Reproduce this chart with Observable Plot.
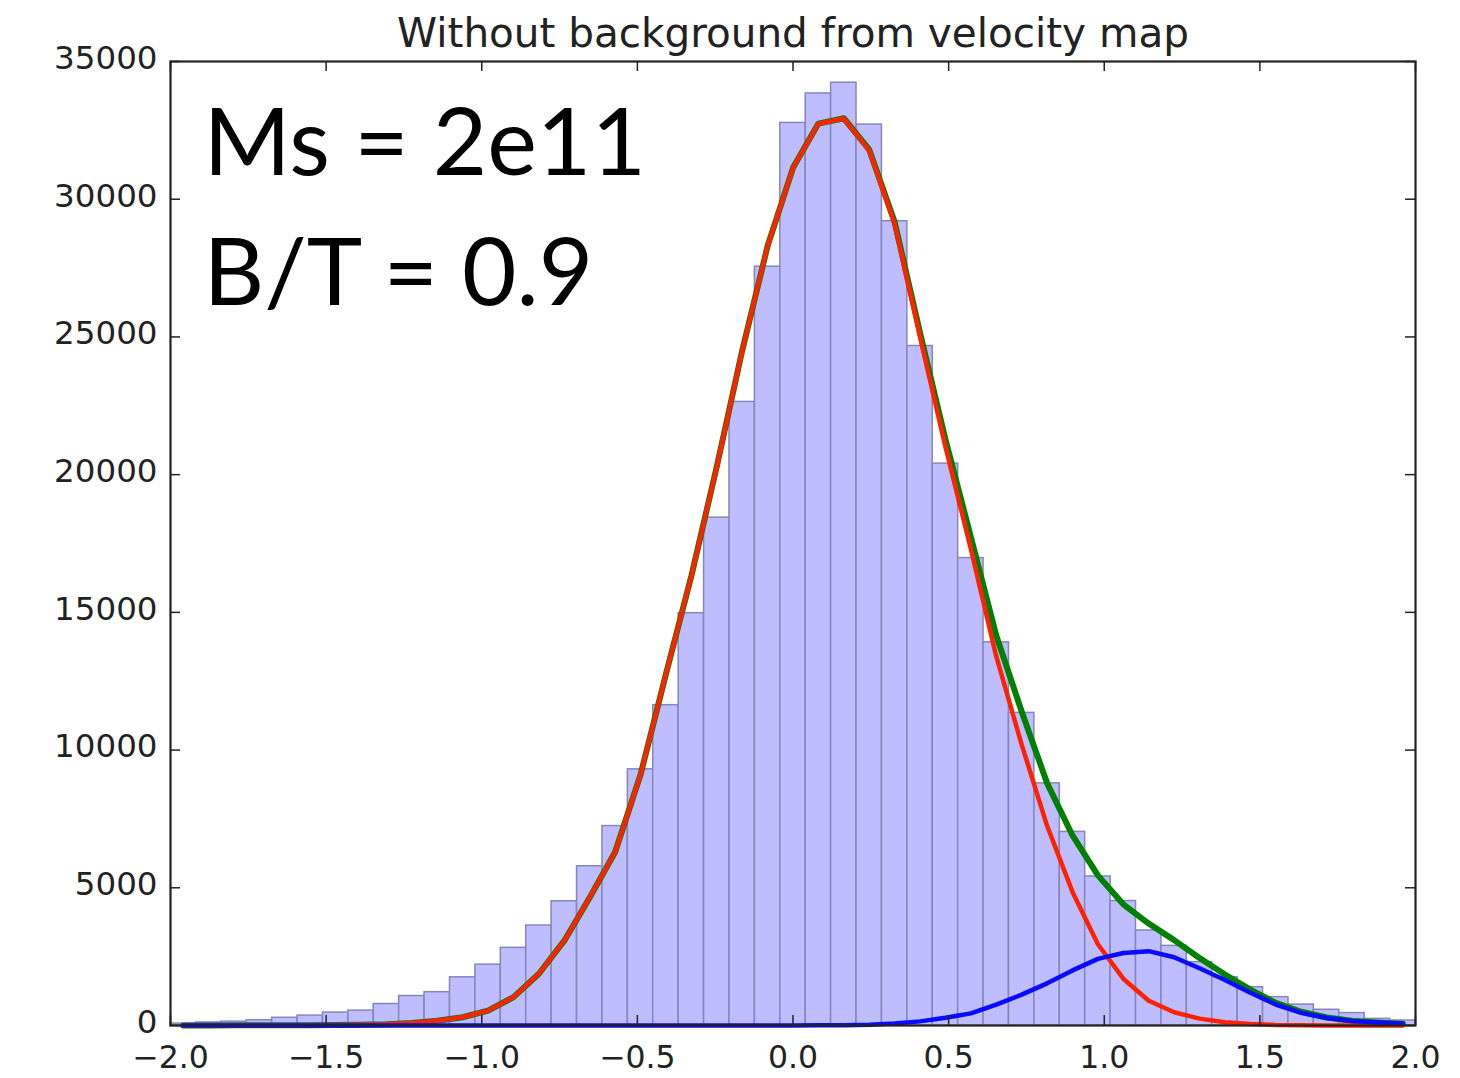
<!DOCTYPE html>
<html>
<head>
<meta charset="utf-8">
<script src="https://cdn.jsdelivr.net/npm/d3@7"></script>
<script src="https://cdn.jsdelivr.net/npm/@observablehq/plot@0.6"></script>
<style>
  html, body { margin: 0; padding: 0; background: #fff; }
  svg { display: block; }
</style>
</head>
<body>
<div id="chart"></div>
<script>
// ---- data ----
const binStart = -2.0;
const binEnd = 2.0;

// histogram counts, 49 bins from -2 to 2
const counts = [70, 110, 140, 190, 280, 360, 470, 540, 780, 1070,
  1210, 1750, 2210, 2820, 3630, 4510, 5780, 7240, 9300, 11630,
  14970, 18440, 22640, 27550, 32770, 33840, 34230, 32710, 29200, 24670,
  20400, 16970, 13910, 11350, 8790, 7030, 5410, 4520, 3450, 2890,
  2300, 1750, 1390, 1030, 760, 570, 450, 240, 180];

// red component (at bin centres)
const redSeries = [0, 0, 5, 5, 10, 10, 15, 25, 45, 90,
  170, 300, 540, 1030, 1880, 3080, 4650, 6300, 9110, 12760,
  16320, 20290, 24500, 28300, 31140, 32740, 32930, 31770, 29100, 25000,
  21000, 17300, 13400, 10200, 7250, 4850, 2950, 1700, 900, 480,
  250, 120, 55, 20, 8, 3, 0, 0, 0];

// blue component (at bin centres)
const blueSeries = [0, 0, 0, 0, 0, 0, 0, 0, 0, 0,
  0, 0, 0, 0, 0, 0, 0, 0, 0, 0,
  0, 0, 0, 0, 0, 5, 12, 30, 70, 150,
  280, 440, 760, 1120, 1530, 2000, 2420, 2630, 2700, 2480,
  2080, 1650, 1190, 760, 460, 270, 165, 110, 65];

// green total (at bin centres)
const greenSeries = [0, 0, 5, 5, 10, 10, 15, 25, 45, 90,
  170, 300, 540, 1030, 1880, 3080, 4650, 6300, 9110, 12760,
  16320, 20290, 24500, 28300, 31140, 32745, 32940, 31800, 29170, 25150,
  21280, 17740, 14160, 11400, 8800, 6900, 5450, 4400, 3700, 3100,
  2450, 1850, 1300, 820, 500, 290, 170, 110, 65];

const xTicks = [-2.0, -1.5, -1.0, -0.5, 0.0, 0.5, 1.0, 1.5, 2.0];
const yTicks = [0, 5000, 10000, 15000, 20000, 25000, 30000, 35000];
const titleText = "Without background from velocity map";
const annotationLines = ["Ms = 2e11", "B/T = 0.9"];

// ---- build tables ----
const W = 1460, H = 1078;
const mL = 170, mR = 45, mT = 61, mB = 53;
const frameW = W - mL - mR, frameH = H - mT - mB;
const tickLen = 10;
const binWidth = (binEnd - binStart) / counts.length;
const bins = counts.map((c, i) => ({x1: binStart + i * binWidth, x2: binStart + (i + 1) * binWidth, count: c}));
const centers = counts.map((_, i) => binStart + (i + 0.5) * binWidth);
const curve = vals => vals.map((v, i) => ({x: centers[i], y: v}));

const chart = Plot.plot({
  width: W,
  height: H,
  marginLeft: mL,
  marginRight: mR,
  marginTop: mT,
  marginBottom: mB,
  style: {fontFamily: "'DejaVu Sans', sans-serif", fontSize: "31px", color: "#222", background: "white"},
  x: {domain: [binStart, binEnd], label: null},
  y: {domain: [0, 35000], label: null},
  marks: [
    Plot.rectY(bins, {x1: "x1", x2: "x2", y: "count", fill: "#bdbdff", stroke: "#8686b8", strokeWidth: 1.5}),
    Plot.line(curve(greenSeries), {x: "x", y: "y", stroke: "#008000", strokeWidth: 6}),
    Plot.line(curve(redSeries), {x: "x", y: "y", stroke: "#ff2200", strokeWidth: 4.5}),
    Plot.line(curve(blueSeries), {x: "x", y: "y", stroke: "#0a0aff", strokeWidth: 4.5}),
    Plot.tickX(xTicks, {x: d => d, insetTop: frameH - tickLen, stroke: "#222", strokeWidth: 1.5}),
    Plot.tickX(xTicks, {x: d => d, insetBottom: frameH - tickLen, stroke: "#222", strokeWidth: 1.5}),
    Plot.tickY(yTicks, {y: d => d, insetRight: frameW - tickLen, stroke: "#222", strokeWidth: 1.5}),
    Plot.tickY(yTicks, {y: d => d, insetLeft: frameW - tickLen, stroke: "#222", strokeWidth: 1.5}),
    Plot.axisX({ticks: xTicks, tickFormat: d3.format(".1f"), tickSize: 0, tickPadding: 20, fontSize: 31.5, label: null}),
    Plot.axisY({ticks: yTicks, tickFormat: d3.format("d"), tickSize: 0, tickPadding: 13, fontSize: 32.5, dy: -3, label: null}),
    Plot.frame({stroke: "#222", strokeWidth: 2.2}),
    Plot.text([titleText], {text: d => d, frameAnchor: "top", dy: -15, lineAnchor: "bottom", fontSize: 40.5, fill: "#222"}),
    Plot.text([annotationLines[0]], {text: d => d, frameAnchor: "top-left", dx: 33, dy: 113, lineAnchor: "bottom", textAnchor: "start", fontSize: 94, fontFamily: "Lato", fontWeight: 400, fill: "black", style: "letter-spacing:1px"}),
    Plot.text([annotationLines[1]], {text: d => d, frameAnchor: "top-left", dx: 33, dy: 243, lineAnchor: "bottom", textAnchor: "start", fontSize: 94, fontFamily: "Lato", fontWeight: 400, fill: "black"})
  ]
});
document.getElementById("chart").appendChild(chart);
</script>
</body>
</html>
